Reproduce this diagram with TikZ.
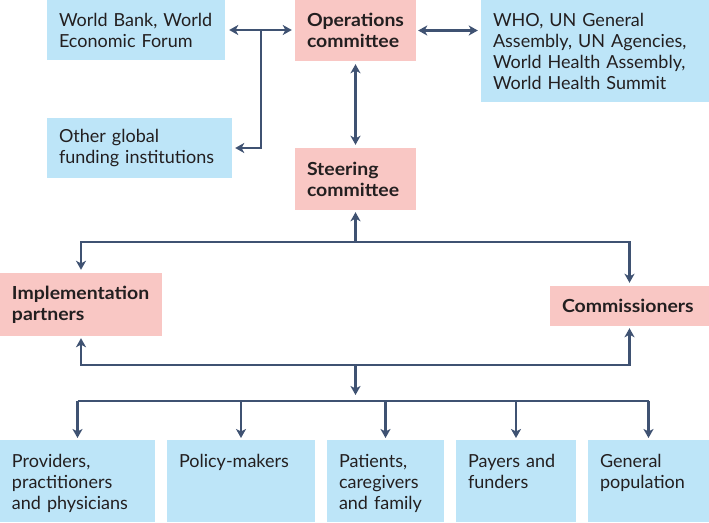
\documentclass[tikz,border=0pt]{standalone}
\usepackage{fontspec}
\setmainfont{Lato}
\newfontfamily\headfont[FakeStretch=1.08]{Lato}
\usetikzlibrary{arrows.meta}
\definecolor{boxblue}{HTML}{BDE5F8}
\definecolor{boxpink}{HTML}{F9C7C4}
\definecolor{linkcol}{HTML}{3F5272}
\definecolor{txtcol}{HTML}{231F20}

\begin{document}
\begin{tikzpicture}[x=1pt,y=-1pt,>={Stealth[length=9pt,width=10pt,inset=2.5pt]}]
	\tikzstyle{every node}=[font=\fontsize{18}{21}\selectfont, text=txtcol]
	\tikzstyle{blue box}=[fill=boxblue, inner xsep=12pt, inner ysep=0pt, align=left]
	\tikzstyle{pink box}=[blue box, fill=boxpink, font=\fontsize{18}{21}\selectfont\headfont\bfseries]
	\tikzstyle{group box}=[blue box, anchor=north, text height=27pt, text depth=55pt]
	\tikzstyle{link}=[draw=linkcol, line width=2.6pt, shorten >=3pt]
	
	\useasboundingbox (0,0) rectangle (709,522);
	
	% top row
	\node[blue box, text width=154pt, minimum height=60pt] (wb) at (136,30) {World Bank, World\\Economic Forum};
	\node[blue box, text width=161pt, minimum height=60pt] (ogf) at (139.5,148) {Other global\\funding institutions};
	\node[pink box, text width=97pt, minimum height=61pt] (ops) at (355.5,30.5) {Operations\\committee};
	\node[blue box, text width=204pt, minimum height=102pt] (who) at (595,51) {WHO, UN General\\Assembly, UN Agencies,\\World Health Assembly,\\World Health Summit};
	\node[pink box, text width=97pt, minimum height=62pt] (steer) at (355.5,179) {Steering\\committee};
	
	% middle
	\node[pink box, text width=138pt, minimum height=63pt] (impl) at (81,304.5) {Implementation\\partners};
	\node[pink box, text width=135pt, minimum height=40pt] (comm) at (629.5,306) {Commissioners};
	
	% groups
	\node[group box, text width=131pt] (prov) at (77.5,440) {Providers,\\practitioners\\and physicians};
	\node[group box, text width=124pt] (pol) at (241,440) {Policy-makers};
	\node[group box, text width=93pt] (pat) at (385.5,440) {Patients,\\caregivers\\and family};
	\node[group box, text width=96pt] (pay) at (516,440) {Payers and\\funders};
	\node[group box, text width=97pt] (gen) at (648.5,440) {General\\population};
	
	\coordinate (fork) at (261,30);
	\coordinate (upper) at (355.5,242);
	\coordinate (lower) at (355.5,365);
	\coordinate (fan) at (355.5,401);
	
	\draw[link, <->, shorten <=4pt] (wb.east) -- (wb.east -| ops.west);
	\draw[link, ->] (fork) |- (ogf.east);
	\draw[link, <->, shorten <=2pt] (ops.east) -- (ops.east -| who.west);
	\draw[link, <->, shorten <=3pt] (ops.south) -- (steer.north);
	
	\draw[link, ->, shorten >=2pt] (upper) -- (steer.south);
	\draw[link, <->, shorten <=3pt] (impl.north) |- (upper) -| (comm.north);
	\draw[link, <->, shorten <=2pt, shorten >=2pt] (impl.south) |- (lower) -| (comm.south);
	\draw[link, ->, shorten >=6pt] (lower) -- (fan);
	
	\draw[link, shorten >=0pt] (fan -| prov.north) -- (fan -| gen.north);
	\foreach \grp in {prov,pol,pat,pay,gen}
		\draw[link, ->, shorten >=2pt] (fan -| \grp.north) -- (\grp.north);
	
\end{tikzpicture}
\end{document}
